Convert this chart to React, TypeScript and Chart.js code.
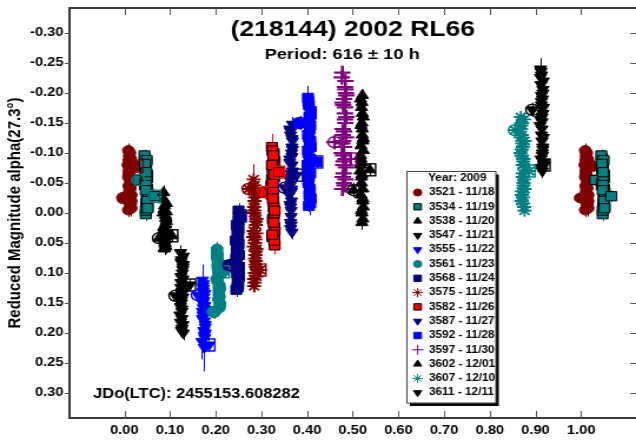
import React, { useEffect, useRef } from 'react';
import { Chart, registerables } from 'chart.js';
import { drawPoint } from 'chart.js/helpers';

Chart.register(...registerables);

// ---------------- data: [phase, reduced magnitude, error] per session ----------------
const S3521 = [[-0.002,-0.025,0.012],[0.009,-0.060,0.012],[0.014,-0.090,0.014],[0.011,-0.035,0.010],[0.015,-0.075,0.012],[0.012,-0.100,0.012],[0.010,-0.045,0.010],[0.013,-0.012,0.012],[0.008,-0.080,0.014],[0.014,-0.055,0.010],[0.011,-0.095,0.012],[0.015,-0.020,0.012],[0.010,-0.065,0.010],[0.012,-0.040,0.012],[0.014,-0.085,0.012],[0.009,-0.005,0.012],[0.013,-0.050,0.010],[0.011,-0.070,0.012],[0.015,-0.030,0.010],[0.010,-0.088,0.012],[0.012,-0.058,0.010],[0.014,-0.015,0.012],[0.009,-0.104,0.012],[0.013,-0.042,0.010],[0.011,-0.072,0.012],[0.015,-0.008,0.014],[0.012,-0.062,0.010],[0.028,-0.078,0.010]];
const S3534 = [[0.031,-0.055,0.010],[0.045,-0.092,0.012],[0.050,-0.040,0.010],[0.047,-0.070,0.012],[0.051,-0.010,0.012],[0.048,-0.084,0.010],[0.046,-0.050,0.012],[0.049,-0.024,0.010],[0.044,-0.096,0.010],[0.050,-0.064,0.012],[0.047,0.002,0.012],[0.051,-0.034,0.010],[0.046,-0.078,0.012],[0.048,-0.016,0.010],[0.050,-0.058,0.012],[0.045,-0.046,0.010],[0.049,-0.088,0.010],[0.047,-0.004,0.012],[0.051,-0.030,0.010],[0.046,-0.072,0.012],[0.048,-0.052,0.010],[0.050,-0.020,0.012],[0.045,-0.082,0.010],[0.049,-0.062,0.012],[0.047,-0.038,0.010],[0.051,-0.008,0.012],[0.048,-0.068,0.010],[0.066,-0.028,0.010]];
const S3538 = [[0.076,0.042,0.010],[0.086,-0.034,0.012],[0.091,0.010,0.010],[0.088,-0.012,0.012],[0.092,0.030,0.010],[0.089,0.052,0.012],[0.087,-0.022,0.010],[0.090,0.020,0.012],[0.085,0.000,0.010],[0.091,0.040,0.012],[0.088,0.060,0.010],[0.092,0.014,0.012],[0.087,-0.006,0.010],[0.089,0.034,0.010],[0.091,0.056,0.012],[0.086,0.024,0.010],[0.090,0.004,0.010],[0.088,0.046,0.012],[0.092,-0.016,0.010],[0.087,0.028,0.012],[0.089,0.050,0.010],[0.091,0.008,0.012],[0.086,0.038,0.010],[0.090,0.018,0.012],[0.088,0.058,0.010],[0.092,-0.002,0.012],[0.089,0.044,0.010],[0.104,0.038,0.010]];
const S3547 = [[0.112,0.138,0.012],[0.123,0.066,0.012],[0.128,0.110,0.010],[0.125,0.150,0.012],[0.129,0.086,0.010],[0.126,0.192,0.014],[0.124,0.124,0.012],[0.127,0.100,0.010],[0.122,0.170,0.012],[0.128,0.140,0.010],[0.125,0.078,0.012],[0.129,0.200,0.012],[0.124,0.116,0.010],[0.126,0.160,0.012],[0.128,0.094,0.010],[0.123,0.182,0.012],[0.127,0.130,0.010],[0.125,0.146,0.012],[0.129,0.072,0.010],[0.124,0.106,0.012],[0.126,0.176,0.010],[0.128,0.090,0.012],[0.123,0.156,0.010],[0.127,0.134,0.012],[0.125,0.196,0.010],[0.129,0.120,0.012],[0.126,0.164,0.010],[0.124,0.082,0.012],[0.128,0.186,0.010],[0.143,0.120,0.010]];
const S3555 = [[0.161,0.137,0.015],[0.171,0.112,0.026],[0.176,0.160,0.015],[0.173,0.130,0.012],[0.177,0.200,0.020],[0.174,0.146,0.012],[0.172,0.122,0.015],[0.175,0.180,0.012],[0.170,0.214,0.030],[0.176,0.154,0.012],[0.173,0.126,0.015],[0.177,0.190,0.012],[0.172,0.170,0.015],[0.174,0.140,0.012],[0.176,0.208,0.015],[0.171,0.164,0.012],[0.175,0.224,0.040],[0.173,0.118,0.012],[0.177,0.186,0.015],[0.172,0.150,0.012],[0.174,0.196,0.015],[0.176,0.134,0.012],[0.171,0.176,0.015],[0.175,0.204,0.012],[0.173,0.158,0.012],[0.185,0.220,0.012]];
const S3561 = [[0.196,0.165,0.012],[0.203,0.060,0.012],[0.208,0.120,0.010],[0.205,0.086,0.012],[0.209,0.150,0.012],[0.206,0.100,0.010],[0.204,0.070,0.012],[0.207,0.136,0.010],[0.202,0.110,0.012],[0.208,0.158,0.012],[0.205,0.092,0.010],[0.209,0.126,0.012],[0.204,0.076,0.010],[0.206,0.144,0.012],[0.208,0.104,0.010],[0.203,0.066,0.012],[0.207,0.130,0.010],[0.205,0.082,0.012],[0.209,0.154,0.010],[0.204,0.114,0.012],[0.206,0.096,0.010],[0.208,0.140,0.012],[0.203,0.074,0.010],[0.207,0.124,0.012],[0.205,0.088,0.010],[0.217,0.098,0.010]];
const S3568 = [[0.230,0.087,0.012],[0.245,0.128,0.012],[0.250,0.012,0.010],[0.247,0.060,0.012],[0.251,0.106,0.010],[0.248,0.030,0.012],[0.246,0.080,0.010],[0.249,0.120,0.012],[0.244,0.046,0.010],[0.250,-0.004,0.012],[0.247,0.094,0.010],[0.251,0.070,0.012],[0.246,0.020,0.010],[0.248,0.112,0.012],[0.250,0.052,0.010],[0.245,0.086,0.012],[0.249,0.040,0.010],[0.247,0.100,0.012],[0.251,0.004,0.010],[0.246,0.066,0.012],[0.248,0.124,0.010],[0.250,0.026,0.012],[0.245,0.076,0.010],[0.249,0.116,0.012],[0.247,0.056,0.010],[0.251,0.090,0.012],[0.248,0.036,0.010],[0.254,0.005,0.010]];
const S3575 = [[0.272,-0.040,0.012],[0.283,-0.056,0.025],[0.288,0.020,0.012],[0.285,-0.020,0.010],[0.289,0.060,0.012],[0.286,0.100,0.012],[0.284,0.000,0.010],[0.287,-0.034,0.012],[0.282,0.040,0.010],[0.288,0.080,0.012],[0.285,0.116,0.012],[0.289,0.010,0.010],[0.284,-0.010,0.012],[0.286,0.050,0.010],[0.288,0.090,0.012],[0.283,0.030,0.010],[0.287,0.070,0.012],[0.285,-0.046,0.010],[0.289,0.106,0.012],[0.284,0.122,0.010],[0.286,-0.026,0.012],[0.288,0.014,0.010],[0.283,0.056,0.012],[0.287,0.086,0.010],[0.285,-0.004,0.012],[0.289,0.034,0.010],[0.286,0.076,0.012],[0.284,0.110,0.010],[0.288,0.064,0.012],[0.285,-0.040,0.010],[0.287,0.044,0.012],[0.297,0.095,0.010]];
const S3582 = [[0.307,-0.035,0.012],[0.323,-0.110,0.022],[0.328,-0.060,0.012],[0.325,0.010,0.012],[0.329,-0.086,0.010],[0.326,-0.020,0.012],[0.324,0.040,0.015],[0.327,-0.100,0.012],[0.322,-0.046,0.010],[0.328,0.000,0.012],[0.325,-0.074,0.012],[0.329,0.054,0.015],[0.324,-0.030,0.010],[0.326,-0.092,0.012],[0.328,0.024,0.012],[0.323,-0.056,0.010],[0.327,-0.010,0.012],[0.325,-0.068,0.010],[0.329,0.030,0.012],[0.324,-0.104,0.010],[0.326,-0.040,0.012],[0.328,0.046,0.010],[0.323,-0.080,0.012],[0.327,0.016,0.010],[0.325,-0.050,0.012],[0.329,-0.004,0.010],[0.326,-0.096,0.012],[0.324,0.036,0.010],[0.328,-0.064,0.012],[0.325,-0.024,0.010],[0.338,-0.068,0.010]];
const S3587 = [[0.351,-0.042,0.012],[0.362,-0.140,0.012],[0.367,-0.080,0.012],[0.364,-0.010,0.010],[0.368,-0.120,0.012],[0.365,0.020,0.012],[0.363,-0.060,0.010],[0.366,-0.100,0.012],[0.361,-0.030,0.010],[0.367,0.032,0.012],[0.364,-0.130,0.010],[0.368,-0.070,0.012],[0.363,-0.046,0.010],[0.365,0.006,0.012],[0.367,-0.110,0.012],[0.362,-0.090,0.010],[0.366,-0.020,0.012],[0.364,0.016,0.010],[0.368,-0.148,0.012],[0.363,-0.054,0.010],[0.365,-0.004,0.012],[0.367,-0.124,0.010],[0.362,-0.084,0.012],[0.366,-0.036,0.010],[0.364,0.026,0.012],[0.368,-0.106,0.010],[0.365,-0.066,0.012],[0.363,-0.014,0.010],[0.367,-0.094,0.012],[0.364,-0.136,0.010],[0.366,-0.040,0.012],[0.377,-0.063,0.010]];
const S3592 = [[0.384,-0.150,0.012],[0.402,-0.192,0.020],[0.407,-0.120,0.012],[0.404,-0.060,0.010],[0.408,-0.170,0.012],[0.405,-0.030,0.012],[0.403,-0.100,0.010],[0.406,-0.140,0.012],[0.401,-0.080,0.010],[0.407,-0.016,0.020],[0.404,-0.180,0.012],[0.408,-0.110,0.010],[0.403,-0.050,0.012],[0.405,-0.160,0.012],[0.407,-0.090,0.010],[0.402,-0.130,0.012],[0.406,-0.040,0.010],[0.404,-0.070,0.012],[0.408,-0.024,0.012],[0.403,-0.186,0.010],[0.405,-0.150,0.012],[0.407,-0.066,0.010],[0.402,-0.104,0.012],[0.406,-0.036,0.010],[0.404,-0.126,0.012],[0.408,-0.164,0.010],[0.405,-0.086,0.012],[0.403,-0.054,0.010],[0.407,-0.146,0.012],[0.404,-0.012,0.010],[0.406,-0.116,0.012],[0.421,-0.085,0.010]];
const S3597 = [[0.460,-0.118,0.012],[0.477,-0.234,0.010],[0.484,-0.150,0.012],[0.479,-0.080,0.012],[0.485,-0.200,0.010],[0.481,-0.050,0.012],[0.478,-0.130,0.010],[0.483,-0.176,0.012],[0.476,-0.100,0.010],[0.484,-0.220,0.012],[0.480,-0.066,0.010],[0.486,-0.160,0.012],[0.478,-0.140,0.010],[0.481,-0.190,0.012],[0.484,-0.090,0.010],[0.477,-0.040,0.012],[0.483,-0.210,0.010],[0.479,-0.120,0.012],[0.485,-0.076,0.010],[0.478,-0.184,0.012],[0.481,-0.110,0.010],[0.484,-0.056,0.010],[0.476,-0.226,0.012],[0.483,-0.166,0.010],[0.479,-0.096,0.012],[0.486,-0.196,0.010],[0.481,-0.136,0.012],[0.478,-0.060,0.010],[0.484,-0.206,0.012],[0.480,-0.086,0.010],[0.483,-0.156,0.012],[0.477,-0.116,0.010],[0.482,-0.046,0.012],[0.479,-0.180,0.010],[0.485,-0.126,0.012],[0.495,-0.090,0.010]];
const S3602 = [[0.502,-0.038,0.012],[0.517,-0.190,0.012],[0.522,-0.120,0.012],[0.519,-0.050,0.010],[0.523,-0.160,0.012],[0.520,0.000,0.012],[0.518,-0.090,0.010],[0.521,-0.140,0.012],[0.516,-0.070,0.010],[0.522,-0.020,0.012],[0.519,-0.176,0.010],[0.523,-0.104,0.012],[0.518,-0.030,0.010],[0.520,-0.150,0.012],[0.522,0.010,0.012],[0.517,-0.080,0.010],[0.521,-0.130,0.012],[0.519,-0.060,0.010],[0.523,-0.010,0.012],[0.518,-0.112,0.012],[0.520,-0.184,0.010],[0.522,-0.040,0.012],[0.517,-0.096,0.010],[0.521,-0.166,0.012],[0.519,-0.004,0.010],[0.523,-0.124,0.012],[0.520,-0.064,0.010],[0.518,-0.146,0.012],[0.522,-0.024,0.010],[0.519,-0.084,0.012],[0.521,-0.196,0.010],[0.520,0.016,0.012],[0.537,-0.072,0.010]];
const S3607 = [[0.855,-0.138,0.012],[0.868,-0.160,0.010],[0.874,-0.090,0.012],[0.870,-0.030,0.012],[0.876,-0.120,0.010],[0.872,-0.060,0.012],[0.869,-0.150,0.010],[0.875,-0.010,0.012],[0.867,-0.100,0.010],[0.874,-0.046,0.012],[0.870,-0.130,0.010],[0.876,-0.076,0.012],[0.869,-0.020,0.010],[0.872,-0.110,0.012],[0.875,-0.056,0.010],[0.868,-0.140,0.012],[0.873,-0.086,0.010],[0.870,-0.036,0.012],[0.876,-0.004,0.010],[0.869,-0.096,0.012],[0.872,-0.066,0.010],[0.875,-0.156,0.012],[0.867,-0.126,0.010],[0.873,-0.016,0.012],[0.870,-0.106,0.010],[0.876,-0.040,0.012],[0.872,-0.080,0.010],[0.869,-0.146,0.012],[0.874,-0.050,0.010],[0.871,-0.116,0.012],[0.873,-0.026,0.010],[0.886,-0.070,0.010]];
const S3611 = [[0.893,-0.172,0.012],[0.911,-0.240,0.018],[0.916,-0.200,0.010],[0.913,-0.130,0.012],[0.917,-0.220,0.010],[0.914,-0.160,0.012],[0.912,-0.090,0.012],[0.915,-0.190,0.010],[0.910,-0.146,0.012],[0.916,-0.110,0.010],[0.913,-0.230,0.012],[0.917,-0.176,0.010],[0.912,-0.076,0.012],[0.914,-0.120,0.010],[0.916,-0.206,0.012],[0.911,-0.156,0.010],[0.915,-0.100,0.012],[0.913,-0.186,0.010],[0.917,-0.084,0.012],[0.912,-0.214,0.010],[0.914,-0.140,0.012],[0.916,-0.166,0.010],[0.911,-0.226,0.012],[0.915,-0.096,0.010],[0.913,-0.196,0.012],[0.917,-0.126,0.010],[0.914,-0.152,0.012],[0.912,-0.236,0.010],[0.916,-0.106,0.012],[0.913,-0.180,0.010],[0.915,-0.070,0.012],[0.919,-0.080,0.010]];

const sessionIds = ['3521','3534','3538','3547','3555','3561','3568','3575','3582','3587','3592','3597','3602','3607','3611'];
const sessionDates = ['11/18','11/19','11/20','11/21','11/22','11/23','11/24','11/25','11/26','11/27','11/28','11/30','12/01','12/10','12/11'];
const sessionPoints = [S3521,S3534,S3538,S3547,S3555,S3561,S3568,S3575,S3582,S3587,S3592,S3597,S3602,S3607,S3611];
const wrappedSessions = ['3521','3534'];

const xLimits = [-0.12, 1.12];
const yLimits = [-0.3417, 0.3417];
const xStep = 0.1;
const yStep = 0.05;

const chartTitle = '(218144) 2002 RL66';
const chartSubtitle = 'Period: 616 \u00b1 10 h';
const jdoLabel = 'JDo(LTC): 2455153.608282';
const legendTitle = 'Year: 2009';
const yAxisTitle = 'Reduced Magnitude alpha(27.3\u00b0)';

// ---------------- styles ----------------
const DR = '#800000', TL = '#008080', BK = '#000000', BL = '#0000ff', NV = '#000080', RD = '#ff0000', PU = '#800080';
const STYLES = [
  { color: DR, border: DR, shape: 'circle', rot: 0, r: 5, lr: 3.5, bw: 1 },
  { color: TL, border: BK, shape: 'rect', rot: 0, r: 6.5, lr: 4.5, bw: 1 },
  { color: BK, border: BK, shape: 'triangle', rot: 0, r: 6, lr: 4, bw: 1 },
  { color: BK, border: BK, shape: 'triangle', rot: 180, r: 6, lr: 4, bw: 1 },
  { color: BL, border: BL, shape: 'triangle', rot: 180, r: 6, lr: 4, bw: 1 },
  { color: TL, border: TL, shape: 'circle', rot: 0, r: 5, lr: 3.5, bw: 1 },
  { color: NV, border: NV, shape: 'rect', rot: 0, r: 6.5, lr: 4.5, bw: 1 },
  { color: DR, border: DR, shape: 'star', rot: 0, r: 6, lr: 4.5, bw: 1.8 },
  { color: RD, border: BK, shape: 'rect', rot: 0, r: 6.5, lr: 4.5, bw: 1 },
  { color: NV, border: NV, shape: 'triangle', rot: 180, r: 6, lr: 4, bw: 1 },
  { color: BL, border: BL, shape: 'rect', rot: 0, r: 6.5, lr: 4.5, bw: 1 },
  { color: PU, border: PU, shape: 'cross', rot: 0, r: 7, lr: 5, bw: 2.2 },
  { color: BK, border: BK, shape: 'triangle', rot: 0, r: 6, lr: 4, bw: 1 },
  { color: TL, border: TL, shape: 'star', rot: 0, r: 6, lr: 4.5, bw: 1.8 },
  { color: BK, border: BK, shape: 'triangle', rot: 180, r: 6, lr: 4, bw: 1 },
];

const FONT = '"Liberation Sans", Arial, Helvetica, sans-serif';
const CW = 540; // internal canvas width, shown stretched to 636 px
const CH = 441;

const fmt2 = (v: number) => (Math.abs(v) < 1e-9 ? '0.00' : v.toFixed(2));

const decor = {
  id: 'decor',
  beforeDatasetsDraw(chart: any) {
    const { ctx, chartArea: ca, scales } = chart;
    const x = scales.x, y = scales.y;
    ctx.save();
    ctx.beginPath();
    ctx.rect(ca.left, ca.top, ca.right - ca.left, ca.bottom - ca.top);
    ctx.clip();
    chart.data.datasets.forEach((ds: any, i: number) => {
      ctx.strokeStyle = STYLES[i].color;
      ctx.lineWidth = 1;
      ctx.beginPath();
      ds.data.forEach((p: any) => {
        const px = Math.round(x.getPixelForValue(p.x)) + 0.5;
        ctx.moveTo(px, y.getPixelForValue(p.y - p.e));
        ctx.lineTo(px, y.getPixelForValue(p.y + p.e));
      });
      ctx.stroke();
    });
    ctx.restore();
  },
  afterDatasetsDraw(chart: any) {
    const { ctx, chartArea: ca, scales } = chart;
    const x = scales.x, y = scales.y;
    ctx.save();
    // session start (open circle) and end (open square) markers
    sessionPoints.forEach((pts, i) => {
      const c = STYLES[i].color;
      const f = pts[0], l = pts[pts.length - 1];
      ctx.strokeStyle = c;
      ctx.lineWidth = 1.4;
      ctx.beginPath();
      ctx.arc(x.getPixelForValue(f[0]), y.getPixelForValue(f[1]), 5.5, 0, Math.PI * 2);
      ctx.stroke();
      const sx = x.getPixelForValue(l[0]), sy = y.getPixelForValue(l[1]);
      ctx.strokeRect(sx - 5, sy - 6, 10, 12);
    });

    // frame
    ctx.strokeStyle = '#3a3a3a';
    ctx.lineWidth = 2;
    ctx.beginPath();
    ctx.moveTo(ca.left - 1, ca.top); ctx.lineTo(ca.right, ca.top);
    ctx.moveTo(ca.left, ca.top - 1); ctx.lineTo(ca.left, ca.bottom + 1);
    ctx.moveTo(ca.left - 1, ca.bottom); ctx.lineTo(ca.right, ca.bottom);
    ctx.stroke();

    // ticks
    ctx.strokeStyle = '#555';
    ctx.lineWidth = 1;
    ctx.beginPath();
    y.ticks.forEach((t: any) => {
      const py = Math.round(y.getPixelForValue(t.value)) + 0.5;
      ctx.moveTo(ca.left - 4, py); ctx.lineTo(ca.left, py);
      ctx.moveTo(ca.right - 5, py); ctx.lineTo(ca.right, py);
    });
    x.ticks.forEach((t: any) => {
      const px = Math.round(x.getPixelForValue(t.value)) + 0.5;
      ctx.moveTo(px, ca.bottom); ctx.lineTo(px, ca.bottom - 7);
      ctx.moveTo(px, ca.top); ctx.lineTo(px, ca.top + 7);
    });
    ctx.stroke();

    // titles
    ctx.fillStyle = '#000';
    ctx.textAlign = 'center';
    ctx.textBaseline = 'middle';
    ctx.font = `bold 22.5px ${FONT}`;
    ctx.fillText(chartTitle, (ca.left + ca.right) / 2, 30);
    ctx.font = `bold 15.5px ${FONT}`;
    ctx.fillText(chartSubtitle, (ca.left + ca.right) / 2 - 9, 55);
    ctx.textAlign = 'left';
    ctx.font = `bold 14px ${FONT}`;
    ctx.fillText(jdoLabel, 79, 394);

    // legend
    const lx0 = 345.5, lx1 = 421, ly0 = 171.5, ly1 = 403;
    ctx.fillStyle = '#000';
    ctx.fillRect(lx0 + 2.5, ly0 + 3, lx1 - lx0, ly1 - ly0);
    ctx.fillStyle = '#fff';
    ctx.fillRect(lx0, ly0, lx1 - lx0, ly1 - ly0);
    ctx.strokeStyle = '#444';
    ctx.lineWidth = 1;
    ctx.strokeRect(lx0, ly0, lx1 - lx0, ly1 - ly0);
    ctx.fillStyle = '#000';
    ctx.font = `bold 10px ${FONT}`;
    ctx.textAlign = 'left';
    ctx.textBaseline = 'middle';
    ctx.fillText(legendTitle, 363.5, 178);
    chart.data.datasets.forEach((ds: any, i: number) => {
      const yy = 192.5 + i * 14.3;
      const st = STYLES[i];
      ctx.fillStyle = st.color;
      ctx.strokeStyle = st.border;
      drawPoint(ctx, { pointStyle: st.shape, rotation: st.rot, radius: st.lr, borderWidth: st.bw > 1.5 ? 1.5 : st.bw }, 354.6, yy);
      ctx.fillStyle = '#000';
      ctx.fillText(ds.label, 364.2, yy);
    });
    ctx.restore();
  },
};

export default function App() {
  const ref = useRef<HTMLCanvasElement>(null);
  useEffect(() => {
    const canvas = ref.current;
    if (!canvas) return;
    Chart.defaults.font.family = FONT;
    Chart.defaults.color = '#000';
    const datasets = sessionIds.map((id, i) => {
      const pts = sessionPoints[i];
      const data: any[] = pts.map((p) => ({ x: p[0], y: p[1], e: p[2] }));
      if (wrappedSessions.includes(id)) {
        pts.forEach((p) => data.push({ x: p[0] + 1, y: p[1], e: p[2] }));
      }
      const st = STYLES[i];
      return {
        label: `${id} - ${sessionDates[i]}`,
        data,
        order: -i,
        showLine: false,
        pointStyle: st.shape,
        rotation: st.rot,
        pointRadius: st.r,
        pointHoverRadius: st.r,
        backgroundColor: st.color,
        borderColor: st.border,
        borderWidth: st.bw,
      };
    });
    const chart = new Chart(canvas, {
      type: 'scatter',
      data: { datasets } as any,
      options: {
        responsive: false,
        devicePixelRatio: 1,
        animation: false,
        events: [],
        layout: { autoPadding: false, padding: { top: 8, left: 0, right: 0, bottom: 0 } },
        plugins: { legend: { display: false }, tooltip: { enabled: false }, title: { display: false } },
        scales: {
          x: {
            type: 'linear',
            min: xLimits[0],
            max: xLimits[1],
            grid: { display: false, drawTicks: false },
            border: { display: false },
            ticks: {
              stepSize: xStep,
              includeBounds: false,
              autoSkip: false,
              maxRotation: 0,
              padding: 5,
              color: '#000',
              font: { size: 12.5, weight: 'bold' },
              callback: (v: any) => fmt2(Number(v)),
            },
            afterBuildTicks: (s: any) => {
              s.ticks = s.ticks.filter((t: any) => t.value > -1e-6 && t.value < 1 + 1e-6);
            },
            afterFit: (s: any) => { s.height = 23; s.paddingLeft = 0; s.paddingRight = 0; },
          },
          y: {
            type: 'linear',
            reverse: true,
            min: yLimits[0],
            max: yLimits[1],
            grid: { display: false, drawTicks: false },
            border: { display: false },
            title: {
              display: true,
              text: yAxisTitle,
              color: '#000',
              font: { size: 15, weight: 'bold' },
              padding: { top: 4, bottom: 0 },
            },
            ticks: {
              stepSize: yStep,
              includeBounds: false,
              autoSkip: false,
              padding: 5,
              color: '#000',
              font: { size: 12.5, weight: 'bold' },
              callback: (v: any) => fmt2(Number(v)),
            },
            afterFit: (s: any) => { s.width = 59; s.paddingTop = 0; s.paddingBottom = 0; },
          },
        },
      } as any,
      plugins: [decor],
    });
    return () => chart.destroy();
  }, []);
  return (
    <div style={{ position: 'absolute', left: 0, top: 0, width: 636, height: 441, background: '#fff' }}>
      <canvas ref={ref} width={CW} height={CH} style={{ width: '636px', height: '441px', display: 'block' }} />
    </div>
  );
}
